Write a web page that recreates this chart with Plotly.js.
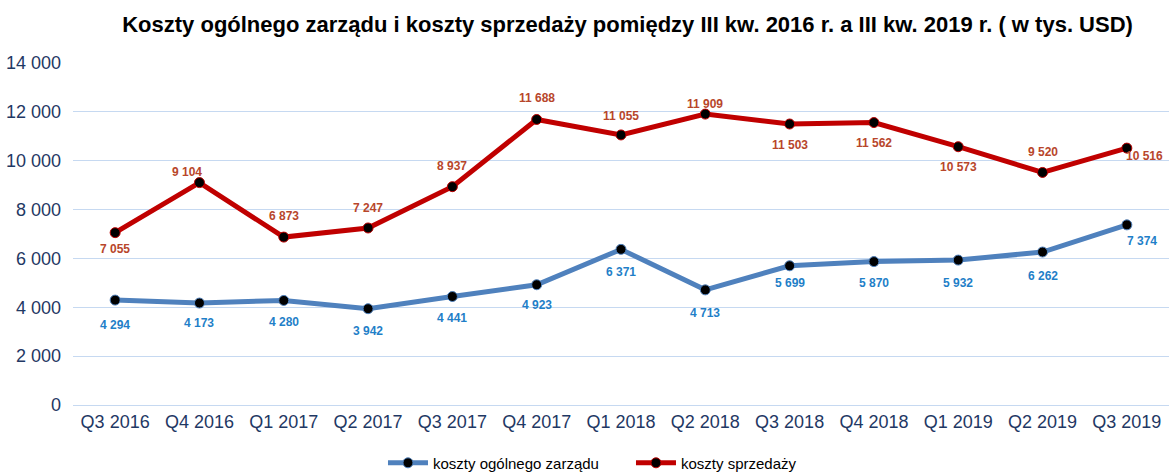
<!DOCTYPE html>
<html>
<head>
<meta charset="utf-8">
<script src="https://cdn.plot.ly/plotly-3.0.1.min.js"></script>
<style>html,body{margin:0;padding:0;background:#fff;}#chart{width:1173px;height:473px;}</style>
</head>
<body>
<div id="chart"></div>
<script>
const categories = ["Q3 2016","Q4 2016","Q1 2017","Q2 2017","Q3 2017","Q4 2017","Q1 2018","Q2 2018","Q3 2018","Q4 2018","Q1 2019","Q2 2019","Q3 2019"];
const zarzadu = [4294,4173,4280,3942,4441,4923,6371,4713,5699,5870,5932,6262,7374];
const sprzedazy = [7055,9104,6873,7247,8937,11688,11055,11909,11503,11562,10573,9520,10516];
const seriesNames = ["koszty ogólnego zarządu","koszty sprzedaży"];

// label placement (pixel offsets, style only)
const blueShiftY = [-25,-20,-22,-22,-21,-20,-23,-23,-17,-21,-23,-24,-16];
const blueShiftX = [0,0,0,0,0,0,0,0,0,0,0,0,15];
const redShiftY = [-16,11,21,20,21,21,19,10,-21,-20,-20,20,-8];
const redShiftX = [0,-12,0,0,0,0,0,0,0,0,0,0,18];

function fmt(v){return String(v).replace(/\B(?=(\d{3})+(?!\d))/g,"\u00a0");}

const blue = "#4F81BD", red = "#C00000";
const traces = [
  {x:categories,y:zarzadu,name:seriesNames[0],type:"scatter",mode:"lines+markers",
   line:{color:blue,width:5},marker:{color:"#000",size:10,line:{color:blue,width:1}}},
  {x:categories,y:sprzedazy,name:seriesNames[1],type:"scatter",mode:"lines+markers",
   line:{color:red,width:5},marker:{color:"#000",size:10,line:{color:red,width:1}}}
];
const annotations = [];
categories.forEach((c,i)=>{
  annotations.push({x:c,y:zarzadu[i],xref:"x",yref:"y",text:fmt(zarzadu[i]),showarrow:false,
    yshift:blueShiftY[i],xshift:blueShiftX[i],font:{family:"Liberation Sans, Arial",size:12,color:"#1F7FC8",weight:"bold"}});
  annotations.push({x:c,y:sprzedazy[i],xref:"x",yref:"y",text:fmt(sprzedazy[i]),showarrow:false,
    yshift:redShiftY[i],xshift:redShiftX[i],font:{family:"Liberation Sans, Arial",size:12,color:"#B8462B",weight:"bold"}});
});
const layout = {
  width:1173,height:473,
  margin:{l:73,r:4,t:63,b:68},
  paper_bgcolor:"#fff",plot_bgcolor:"#fff",
  separators:", ",
  font:{family:"Liberation Sans, Arial",color:"#243F60"},
  title:{text:"<b>Koszty ogólnego zarządu i koszty sprzedaży pomiędzy III kw. 2016 r. a III kw. 2019 r. ( w tys. USD)</b>",
    x:0.535,xref:"container",xanchor:"center",y:0.948,yref:"container",yanchor:"middle",
    font:{family:"Liberation Sans, Arial",size:22,color:"#000"}},
  xaxis:{type:"category",range:[-0.5,12.5],showgrid:false,showline:false,zeroline:false,ticks:"",
    tickfont:{size:18,color:"#1F3864"},ticklabelstandoff:4},
  yaxis:{range:[0,14000],dtick:2000,tickformat:",d",showgrid:true,gridcolor:"#C6D9F1",gridwidth:1,
    zeroline:true,zerolinecolor:"#C6D9F1",zerolinewidth:1,showline:false,ticks:"",
    tickfont:{size:18,color:"#1F3864"},ticklabelstandoff:11},
  legend:{orientation:"h",x:0.3265,xanchor:"left",xref:"container",y:0.021,yref:"container",yanchor:"middle",
    font:{size:15,color:"#000"},itemwidth:40,entrywidth:193,entrywidthmode:"pixels"},
  showlegend:true,
  annotations:annotations
};
Plotly.newPlot("chart",traces,layout,{displayModeBar:false,staticPlot:true});
</script>
</body>
</html>
